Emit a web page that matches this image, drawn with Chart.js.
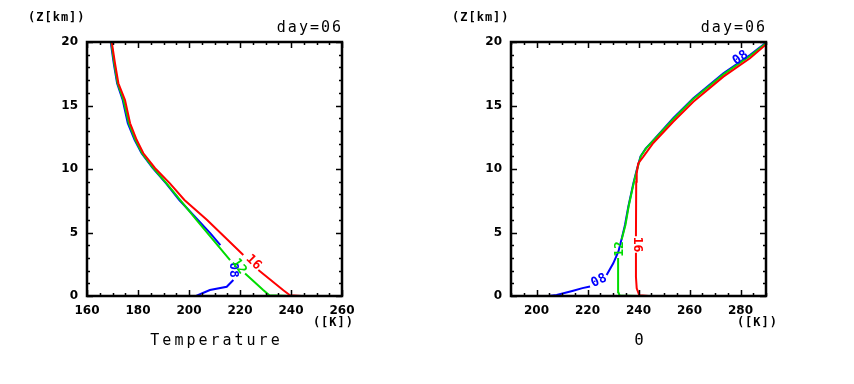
<!DOCTYPE html>
<html lang="en">
<head>
<meta charset="UTF-8">
<title>Temperature and Theta profiles, day=06</title>
<script src="https://cdn.jsdelivr.net/npm/chart.js"></script>
<style>
    body {
        margin: 0;
        background: #fff;
        width: 854px;
        height: 384px;
        overflow: hidden;
        position: relative;
    }
    .panel { position: absolute; top: 0; width: 427px; height: 384px; }
    #leftPanel { left: 0; }
    #rightPanel { left: 427px; }
</style>
</head>
<body>
<div class="panel" id="leftPanel"><canvas id="tempChart" width="427" height="384"></canvas></div>
<div class="panel" id="rightPanel"><canvas id="thetaChart" width="427" height="384"></canvas></div>

<script>
// profiles: [value, height in km], null = gap for the contour label
const temp08 = [[202.8,0],[205,0.2],[208.2,0.47],[214.8,0.73],[217.4,1.26], null,
    [212.3,4.0],[208.4,4.93],[203.5,5.98],[196.2,7.56],[191,8.87],[185.8,10.06],[181.4,11.24],
    [178.7,12.28],[176,13.6],[174,15.43],[171.8,16.75],[170.5,18.3],[169.3,20]];
const temp12 = [[239.6,0],[231.5,0.05],[229.1,0.47],[222,1.78], null,
    [216.1,2.83],[203,5.98],[196.5,7.56],[191.2,8.87],[186,10.06],[181.6,11.24],
    [179,12.28],[176.4,13.6],[174.3,15.43],[172,16.75],[170.7,18.3],[169.5,20]];
const temp16 = [[244.2,0],[239.6,0.06],[237,0.45],[227.2,2.05], null,
    [221.3,3.23],[207.1,5.98],[198.2,7.56],[192.5,8.87],[186.7,10.06],[182.1,11.24],
    [179.5,12.28],[176.9,13.6],[174.9,15.43],[172.3,16.75],[171,18.3],[169.7,20]];

const theta08 = [[204.6,0],[207.9,0.08],[214.4,0.42],[218,0.62],[221,0.75], null,
    [227.5,1.65],[230.1,2.57],[232.1,3.49],[233.4,4.5],[234.7,5.6],[236,7.03],[238,8.87],
    [239.3,9.92],[240.8,11],[242.8,11.6],[245.5,12.2],[253.6,14],[261.5,15.57],[273.3,17.54],
    [283.7,18.98],[290,19.95]];
const theta12 = [[239.5,0],[232.6,0.04],[232.1,0.3],[232,1.5],[232,3.0], null,
    [233.4,4.45],[234.9,5.6],[236.1,7.03],[238.1,8.87],[239.4,9.92],[240.9,11],[242.9,11.6],
    [245.6,12.2],[253.5,13.9],[261.4,15.5],[273.3,17.45],[283.7,18.9],[290,19.9]];
const theta16 = [[244,0],[240.3,0.06],[239.3,0.6],[239,1.5],[239,3.4], null,
    [239,4.7],[239.1,9],[239.3,9.66],[239.9,10.45],[241.9,10.97],[245.8,12.05],[253.6,13.72],
    [261.5,15.3],[273.3,17.27],[283.7,18.72],[290,19.8]];

// contour labels: [text, value, height, angle]
const tempLabels08 = [['08', 217.3, 2.05, 90]];
const tempLabels12 = [['12', 219.6, 2.32, 55]];
const tempLabels16 = [['16', 225.3, 2.64, 45]];
const thetaLabels08 = [['08', 224.5, 1.2, -25], ['08', 280, 18.75, -35]];
const thetaLabels12 = [['12', 232.7, 3.7, -90]];
const thetaLabels16 = [['16', 239.4, 4.05, 90]];

const tempRange = [160, 260];
const thetaRange = [190, 290];
const heightRange = [0, 20];

const colors = { '08': '#0000ff', '12': '#00dc00', '16': '#ff0000' };
const monoFont = 'DejaVu Sans Mono';
const tickFont = 'DejaVu Sans';

function toPoints(arr) {
    return arr.map(p => p ? { x: p[0], y: p[1] } : { x: null, y: null });
}

// frame with inward ticks on all four sides
const framePlugin = {
    id: 'frame',
    afterDraw(chart) {
        const { ctx, chartArea: a, scales: { x, y } } = chart;
        ctx.save();
        ctx.strokeStyle = '#000';
        ctx.lineWidth = 1.5;
        ctx.beginPath();
        for (let v = x.min; v <= x.max; v += 5) {
            const px = Math.round(x.getPixelForValue(v)) + 0.5;
            const len = v % 20 === 0 ? 6 : 3;
            ctx.moveTo(px, a.bottom); ctx.lineTo(px, a.bottom - len);
            ctx.moveTo(px, a.top); ctx.lineTo(px, a.top + len);
        }
        for (let v = y.min; v <= y.max; v += 1) {
            const py = Math.round(y.getPixelForValue(v)) + 0.5;
            const len = v % 5 === 0 ? 6 : 3;
            ctx.moveTo(a.left, py); ctx.lineTo(a.left + len, py);
            ctx.moveTo(a.right, py); ctx.lineTo(a.right - len, py);
        }
        ctx.stroke();
        ctx.lineWidth = 2.5;
        ctx.strokeRect(a.left, a.top, a.right - a.left, a.bottom - a.top);
        ctx.restore();
    }
};

// titles and unit strings
const textPlugin = {
    id: 'texts',
    afterDraw(chart, args, opts) {
        const { ctx, chartArea: a } = chart;
        ctx.save();
        ctx.fillStyle = '#000';
        ctx.textBaseline = 'middle';

        ctx.font = 'bold 12px ' + monoFont;
        ctx.letterSpacing = '1px';
        ctx.textAlign = 'left';
        ctx.fillText('(Z[km])', a.left - 59, a.top - 24);

        ctx.font = '15px ' + monoFont;
        ctx.letterSpacing = '2px';
        ctx.textAlign = 'right';
        ctx.fillText('day=06', a.right + 1, a.top - 14);

        ctx.font = 'bold 12px ' + monoFont;
        ctx.letterSpacing = '1px';
        ctx.fillText('([K])', a.right + 12, a.bottom + 27);

        ctx.font = '15px ' + monoFont;
        ctx.letterSpacing = '3px';
        ctx.textAlign = 'center';
        ctx.fillText(opts.title, (a.left + a.right) / 2 + 2, a.bottom + 45);
        ctx.restore();
    }
};

// labels on the curves
const labelPlugin = {
    id: 'curveLabels',
    afterDatasetsDraw(chart, args, opts) {
        const { ctx, scales: { x, y } } = chart;
        ctx.save();
        ctx.font = 'bold 13px ' + monoFont;
        ctx.textAlign = 'center';
        ctx.textBaseline = 'middle';
        opts.groups.forEach(g => {
            ctx.fillStyle = g.color;
            g.items.forEach(([txt, vx, vy, rot]) => {
                ctx.save();
                ctx.translate(x.getPixelForValue(vx), y.getPixelForValue(vy));
                ctx.rotate(rot * Math.PI / 180);
                ctx.fillText(txt, 0, 0);
                ctx.restore();
            });
        });
        ctx.restore();
    }
};

function makeChart(id, series, labels, range, padding, title, stepX) {
    return new Chart(document.getElementById(id), {
        type: 'scatter',
        data: {
            // red first so it is drawn on top
            datasets: ['16', '12', '08'].map(h => ({
                label: h,
                data: toPoints(series[h]),
                showLine: true,
                spanGaps: false,
                borderColor: colors[h],
                borderWidth: 2,
                pointRadius: 0,
                fill: false
            }))
        },
        options: {
            responsive: false,
            animation: false,
            devicePixelRatio: 1,
            layout: { padding: padding },
            scales: {
                x: {
                    type: 'linear',
                    min: range[0],
                    max: range[1],
                    grid: { display: false },
                    border: { display: false },
                    afterFit: s => { s.height = 20; },
                    ticks: {
                        stepSize: stepX,
                        padding: 0,
                        autoSkip: false,
                        color: '#000',
                        maxRotation: 0,
                        font: { family: tickFont, weight: 'bold', size: 12 },
                        callback: v => (v % 20 === 0 ? v : '')
                    }
                },
                y: {
                    type: 'linear',
                    min: heightRange[0],
                    max: heightRange[1],
                    grid: { display: false },
                    border: { display: false },
                    afterFit: s => { s.width = 30; },
                    ticks: {
                        stepSize: 5,
                        padding: 1,
                        color: '#000',
                        font: { family: tickFont, weight: 'bold', size: 12 }
                    }
                }
            },
            plugins: {
                legend: { display: false },
                tooltip: { enabled: false },
                texts: { title: title },
                curveLabels: {
                    groups: ['08', '12', '16'].map(h => ({ color: colors[h], items: labels[h] }))
                }
            }
        },
        plugins: [framePlugin, textPlugin, labelPlugin]
    });
}

makeChart('tempChart',
    { '08': temp08, '12': temp12, '16': temp16 },
    { '08': tempLabels08, '12': tempLabels12, '16': tempLabels16 },
    tempRange, { left: 57, right: 85, top: 42, bottom: 68 }, 'Temperature', 20);

makeChart('thetaChart',
    { '08': theta08, '12': theta12, '16': theta16 },
    { '08': thetaLabels08, '12': thetaLabels12, '16': thetaLabels16 },
    thetaRange, { left: 54, right: 88, top: 42, bottom: 68 }, 'Θ', 10);
</script>
</body>
</html>
